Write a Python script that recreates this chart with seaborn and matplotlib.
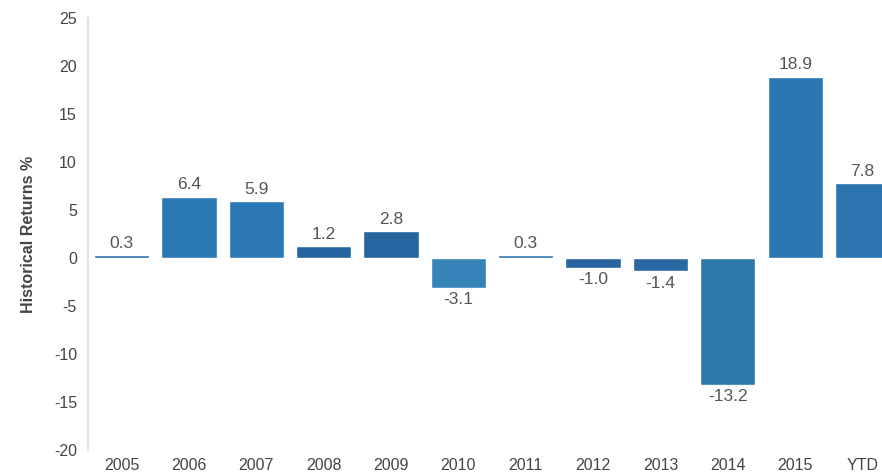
import matplotlib
matplotlib.use("Agg")
import matplotlib.pyplot as plt
import seaborn as sns
import pandas as pd

categories = ["2005", "2006", "2007", "2008", "2009", "2010", "2011",
              "2012", "2013", "2014", "2015", "YTD"]
returns = [0.3, 6.4, 5.9, 1.2, 2.8, -3.1, 0.3, -1.0, -1.4, -13.2, 18.9, 7.8]
bar_colors = ["#2d6ca8", "#2b79b4", "#2b78b5", "#25659f", "#25669f", "#3583b7",
              "#2d74b0", "#2a64a0", "#2b68a3", "#2c79ac", "#2b77b3", "#2c74b0"]
y_ticks = [-20, -15, -10, -5, 0, 5, 10, 15, 20, 25]

sns.set_theme(style="white")
plt.rcParams["font.family"] = ["Liberation Sans", "DejaVu Sans"]

df = pd.DataFrame({"year": categories, "ret": returns})

fig = plt.figure(figsize=(8.82, 4.73), dpi=100)
ax = fig.add_axes([0.0998, 0.0486, 0.9002, 0.9133])

sns.barplot(data=df, x="year", y="ret", hue="year", palette=bar_colors,
            order=categories, hue_order=categories, legend=False,
            width=0.82, saturation=1, ax=ax)

ax.set_ylim(-20, 25)
ax.set_xlim(-0.5, 11.29)
ax.set_yticks(y_ticks)
ax.set_yticklabels([str(t) for t in y_ticks])
ax.tick_params(axis="both", length=0, colors="#444444", labelsize=11.5)
ax.tick_params(axis="y", pad=8)
ax.tick_params(axis="x", pad=6)
ax.set_xlabel("")
ax.set_ylabel("Historical Returns %", fontsize=11.5, fontweight="bold",
              color="#444444", labelpad=13)

for s in ["top", "right", "bottom"]:
    ax.spines[s].set_visible(False)
ax.spines["left"].set_color("#dddddd")
ax.spines["left"].set_linewidth(1.2)

for i, v in enumerate(returns):
    if v >= 0:
        ax.annotate(f"{v:.1f}", (i, v), xytext=(0, 3), textcoords="offset points",
                    ha="center", va="bottom", fontsize=12.5, color="#555555")
    else:
        ax.annotate(f"{v:.1f}", (i, v), xytext=(0, -3), textcoords="offset points",
                    ha="center", va="top", fontsize=12.5, color="#555555")

fig.savefig("out.png", dpi=100)
